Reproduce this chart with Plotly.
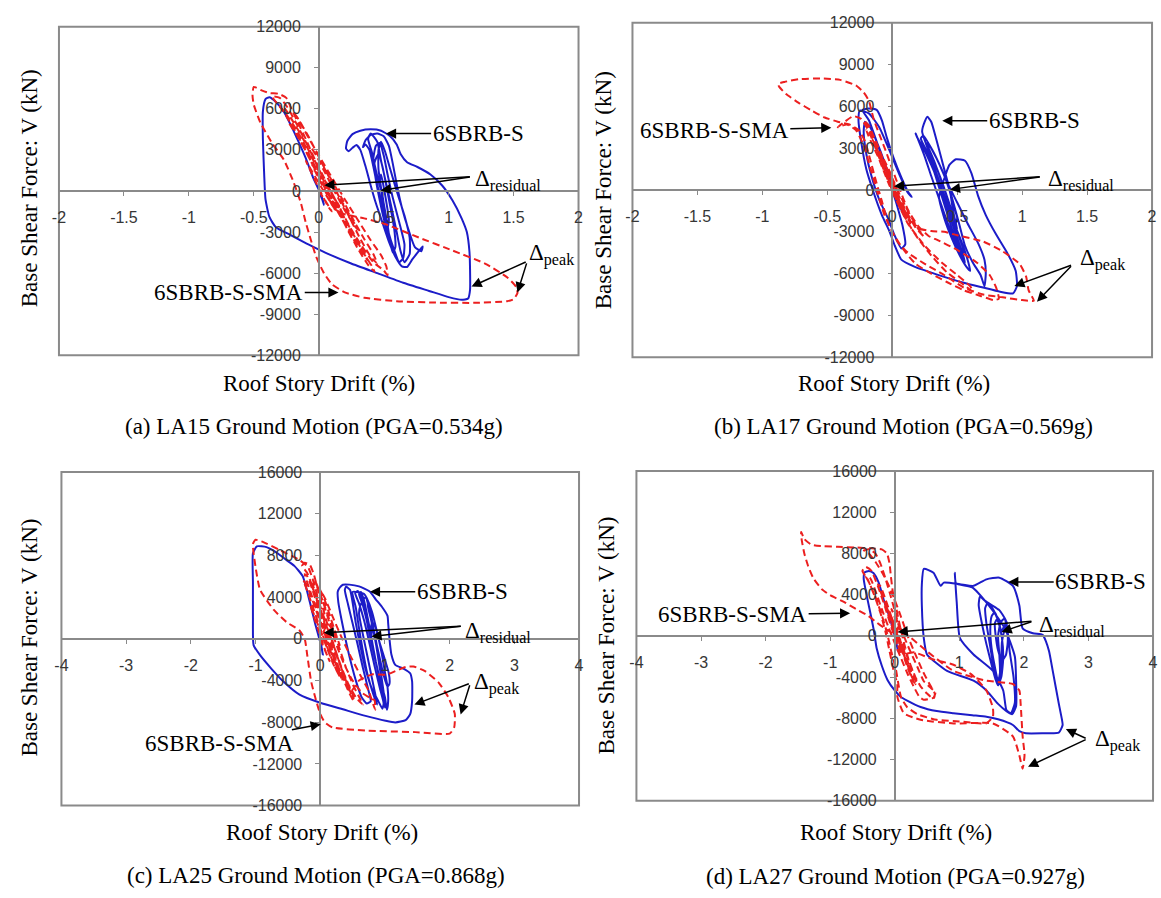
import plotly.graph_objects as go

# Roof story drift (%) vs base shear (kN) histories, one list of (drift, shear) per series
la15_s = [(0, 0), (0.03, -700), (0.04, -1000), (0.02, -300), (-0.04, 900), (-0.1, 2400), (-0.17, 3900),
          (-0.22, 4900), (-0.27, 5800), (-0.33, 6500), (-0.38, 6850), (-0.41, 6700), (-0.43, 5800),
          (-0.43, 3800), (-0.42, 1200), (-0.41, -600), (-0.38, -1900), (-0.33, -2650), (-0.22, -3200),
          (-0.08, -3900), (0.05, -4500), (0.25, -5300), (0.45, -6000), (0.65, -6700), (0.85, -7300),
          (1.0, -7750), (1.1, -7950), (1.15, -7850), (1.165, -7200), (1.165, -5800), (1.16, -4400),
          (1.14, -3000), (1.1, -2000), (1.03, -700), (0.95, 400), (0.86, 1200), (0.76, 1750), (0.68, 2100),
          (0.63, 2700), (0.6, 3400), (0.55, 4000), (0.48, 4400), (0.40, 4500), (0.32, 4400), (0.26, 4150),
          (0.22, 3650), (0.21, 3100), (0.23, 2900), (0.26, 3150), (0.29, 3350), (0.32, 3000), (0.36, 1800),
          (0.40, 400), (0.44, -900), (0.49, -2300), (0.54, -3700), (0.59, -4800), (0.64, -5500),
          (0.68, -5550), (0.72, -5000), (0.77, -4400), (0.80, -4050), (0.79, -4400), (0.74, -4100),
          (0.69, -2800), (0.64, -1200), (0.60, 500), (0.57, 2000), (0.54, 3300), (0.50, 4000), (0.45, 4200),
          (0.40, 4100), (0.36, 3700), (0.34, 3200), (0.36, 3400), (0.39, 3000), (0.42, 1800), (0.45, 400),
          (0.49, -1200), (0.53, -2800), (0.58, -4300), (0.62, -5200), (0.65, -4900), (0.66, -3900),
          (0.62, -2300), (0.57, -500), (0.53, 1200), (0.50, 2600), (0.47, 3500), (0.44, 3300), (0.42, 2300),
          (0.44, 800), (0.47, -700), (0.50, -2000), (0.54, -3400), (0.57, -4500), (0.59, -4100),
          (0.58, -2700), (0.55, -1100), (0.52, 400), (0.49, 1800), (0.46, 2700), (0.43, 2100), (0.44, 900),
          (0.47, -300), (0.50, -1600), (0.53, -2700), (0.54, -2100), (0.52, -800), (0.50, 300), (0.48, 1200),
          (0.47, 600), (0.48, 0), (0.44, 1500), (0.41, 2800), (0.38, 3800), (0.40, 4200), (0.45, 3600),
          (0.48, 2200), (0.52, 500), (0.56, -1200), (0.60, -3000), (0.63, -4400), (0.66, -5200),
          (0.70, -4600), (0.70, -3400), (0.66, -1800), (0.60, 0), (0.55, 1600), (0.51, 2900), (0.48, 3600),
          (0.46, 3000), (0.46, 1600), (0.48, 200), (0.50, -1400), (0.53, -3000), (0.55, -3800),
          (0.53, -2500), (0.50, -900), (0.48, 300), (0.476, 40)]

la15_sma = [(0, 0), (0.05, -700), (0.1, -1500), (0.07, -1100), (0.0, 200), (-0.06, 1400), (-0.1, 2200),
            (-0.05, 1400), (0.05, -200), (0.14, -1500), (0.22, -1750), (0.35, -2000), (0.52, -2450),
            (0.77, -3400), (1.03, -4350), (1.28, -5300), (1.45, -6300), (1.52, -7000), (1.53, -7450),
            (1.5, -7900), (1.45, -8050), (1.2, -8170), (0.9, -8150), (0.6, -8050), (0.35, -7800),
            (0.2, -7400), (0.1, -6800), (0.04, -6000), (-0.02, -4800), (-0.06, -3600), (-0.1, -2300),
            (-0.14, -800), (-0.2, 800), (-0.27, 2300), (-0.36, 3500), (-0.45, 5000), (-0.5, 6300),
            (-0.51, 7000), (-0.5, 7600), (-0.44, 7350), (-0.38, 7150), (-0.31, 7100), (-0.25, 6800),
            (-0.22, 6200), (-0.16, 5000), (-0.1, 3800), (-0.03, 2300), (0.05, 800), (0.12, -600),
            (0.2, -2000), (0.28, -3400), (0.35, -4600), (0.41, -5500), (0.43, -5900), (0.38, -5400),
            (0.3, -4200), (0.22, -2800), (0.14, -1300), (0.05, 300), (-0.04, 1800), (-0.12, 3300),
            (-0.2, 4700), (-0.28, 5900), (-0.33, 6500), (-0.36, 6900), (-0.3, 6800), (-0.24, 6100),
            (-0.16, 4700), (-0.08, 3200), (0.0, 1600), (0.08, 200), (0.16, -1200), (0.25, -2800),
            (0.33, -4000), (0.42, -5200), (0.5, -5800), (0.53, -6150), (0.52, -5500), (0.48, -4700),
            (0.4, -3600), (0.3, -2100), (0.2, -600), (0.1, 1000), (0.0, 2600), (-0.08, 3900), (-0.15, 5100),
            (-0.2, 5800), (-0.16, 5300), (-0.08, 4000), (0.0, 2500), (0.08, 1000), (0.16, -500),
            (0.24, -2000), (0.32, -3500), (0.4, -4800), (0.45, -5300), (0.42, -4600), (0.35, -3500),
            (0.26, -2000), (0.17, -400), (0.08, 1100), (0.0, 2300), (-0.06, 3200), (-0.02, 2600),
            (0.05, 1300), (0.12, 0), (0.2, -1400), (0.28, -2600), (0.3, -2800), (0.24, -1800),
            (0.15, -300), (0.08, 800), (0.04, 400), (0.1, -600), (0.16, -1500), (0.12, -1300), (0.06, -200),
            (0.0, 900), (-0.05, 1900), (-0.02, 1500), (0.04, 500), (0.12, -900), (0.2, -2100), (0.26, -3000),
            (0.22, -2700), (0.14, -1400), (0.06, 0), (-0.02, 1400), (-0.1, 2900), (-0.17, 4100),
            (-0.23, 5000), (-0.2, 4800), (-0.12, 3500), (-0.05, 2100), (0.02, 800), (0.1, -700),
            (0.18, -2000), (0.24, -3000), (0.3, -3800), (0.36, -4700), (0.38, -5100), (0.34, -4600),
            (0.26, -3400), (0.18, -2000), (0.1, -600), (0.03, 700), (-0.05, 2200), (-0.12, 3600),
            (-0.18, 4600), (-0.25, 5600), (-0.3, 6200), (-0.26, 6000), (-0.2, 5100), (-0.12, 3800),
            (-0.04, 2200), (0.03, 900), (0.1, -300), (0.16, -1100), (0.12, -500), (0.06, 500), (0.043, 420)]

la17_s = [(0, 0), (0.06, -1200), (0.1, -2000), (0.05, -1000), (-0.03, 1200), (-0.1, 3000), (-0.17, 4500),
          (-0.21, 4900), (-0.22, 4200), (-0.2, 2600), (-0.16, 1000), (-0.1, -700), (-0.03, -2100),
          (0.02, -3300), (0.07, -4200), (0.1, -3900), (0.08, -2600), (0.03, -900), (-0.04, 1200),
          (-0.11, 3200), (-0.18, 5000), (-0.23, 5750), (-0.18, 5850), (-0.12, 5750), (-0.08, 5000),
          (-0.04, 3700), (0.01, 2300), (0.07, 900), (0.12, -100), (0.15, -500), (0.12, -200), (0.06, 1000),
          (-0.02, 2800), (-0.1, 4500), (-0.18, 5500), (-0.25, 5700), (-0.26, 5000), (-0.24, 3500),
          (-0.2, 1500), (-0.15, 0), (-0.08, -1800), (-0.02, -3000), (0.02, -4000), (0.07, -5000),
          (0.17, -5500), (0.34, -6050), (0.55, -6650), (0.7, -7000), (0.83, -7300), (0.93, -7420),
          (0.96, -6900), (0.95, -5800), (0.89, -4600), (0.8, -3200), (0.72, -1800), (0.66, -400),
          (0.61, 1200), (0.56, 2100), (0.49, 2200), (0.44, 1800), (0.4, 800), (0.36, -500), (0.4, -2000),
          (0.46, -3500), (0.52, -4700), (0.57, -5500), (0.6, -5800), (0.58, -5000), (0.52, -3400),
          (0.45, -1800), (0.38, 0), (0.3, 1800), (0.24, 3000), (0.19, 3800), (0.18, 4050), (0.2, 3600),
          (0.25, 2400), (0.3, 1000), (0.36, -600), (0.42, -2200), (0.48, -3600), (0.53, -4700),
          (0.55, -4400), (0.5, -3000), (0.44, -1400), (0.37, 400), (0.31, 2000), (0.26, 3300), (0.23, 4200),
          (0.25, 4900), (0.27, 5250), (0.3, 4900), (0.34, 3600), (0.38, 2200), (0.42, 800), (0.47, -900),
          (0.52, -2600), (0.56, -4000), (0.62, -5200), (0.68, -6100), (0.71, -6900), (0.72, -6000),
          (0.71, -5000), (0.66, -3800), (0.58, -2400), (0.5, -900), (0.42, 600), (0.36, 1900), (0.3, 3000),
          (0.26, 3400), (0.28, 3000), (0.33, 1900), (0.38, 600), (0.44, -1000), (0.49, -2400), (0.5, -2000),
          (0.46, -800), (0.44, 0), (0.38, 1500), (0.3, 3000), (0.24, 3900), (0.22, 3700), (0.28, 2500),
          (0.34, 800), (0.4, -1000), (0.46, -2800), (0.52, -4300), (0.56, -5200), (0.54, -4500),
          (0.48, -2900), (0.42, -1200), (0.36, 500), (0.3, 2100), (0.27, 2900), (0.31, 2300), (0.37, 900),
          (0.43, -700), (0.48, -2200), (0.5, -2800), (0.47, -1600), (0.444, 35)]

la17_sma = [(0, 0), (0.04, -800), (0.08, -1500), (0.03, -500), (-0.04, 1000), (-0.1, 2400), (-0.15, 3600),
            (-0.12, 3000), (-0.05, 1500), (0.02, 0), (0.08, -1300), (0.14, -2400), (0.1, -1800),
            (0.02, -200), (-0.06, 1600), (-0.13, 3200), (-0.18, 4400), (-0.22, 5000), (-0.18, 4600),
            (-0.1, 2900), (-0.02, 1000), (0.06, -800), (0.14, -2200), (0.22, -2800), (0.3, -2950),
            (0.4, -3000), (0.5, -3250), (0.7, -3700), (0.85, -4400), (0.98, -5300), (1.03, -6200),
            (1.05, -7200), (1.09, -7950), (1.0, -7900), (0.85, -7700), (0.7, -7500), (0.55, -7000),
            (0.4, -6100), (0.25, -5300), (0.12, -4500), (0.04, -3700), (-0.03, -2400), (-0.08, -800),
            (-0.13, 800), (-0.17, 2200), (-0.21, 3500), (-0.26, 4300), (-0.33, 4700), (-0.42, 4900),
            (-0.52, 5200), (-0.62, 5700), (-0.72, 6250), (-0.82, 6900), (-0.87, 7400), (-0.88, 7600),
            (-0.83, 7750), (-0.72, 7950), (-0.55, 8000), (-0.4, 7900), (-0.28, 7500), (-0.22, 7000),
            (-0.18, 6400), (-0.16, 5700), (-0.14, 5000), (-0.1, 4000), (-0.05, 2800), (0.0, 1500),
            (0.06, 0), (0.12, -1400), (0.2, -2600), (0.28, -3300), (0.35, -3600), (0.5, -4300),
            (0.65, -5200), (0.75, -6100), (0.8, -7000), (0.82, -7800), (0.78, -7900), (0.68, -7600),
            (0.55, -7200), (0.42, -6600), (0.3, -6000), (0.18, -5300), (0.08, -4200), (0.0, -3000),
            (-0.06, -1800), (-0.12, 0), (-0.17, 1600), (-0.22, 3200), (-0.28, 4300), (-0.35, 4700),
            (-0.42, 4500), (-0.38, 4800), (-0.3, 5300), (-0.24, 5100), (-0.18, 4200), (-0.12, 2800),
            (-0.06, 1300), (0.0, 0), (0.06, -1300), (0.13, -2500), (0.2, -3500), (0.3, -4700),
            (0.42, -5900), (0.55, -6800), (0.62, -7300), (0.6, -6900), (0.5, -6100), (0.38, -5200),
            (0.25, -4000), (0.12, -2400), (0.04, -900), (-0.02, 300), (-0.08, 1700), (-0.12, 2700),
            (-0.08, 2200), (-0.02, 1200), (0.03, 200), (0.02, -100), (0.08, -1200), (0.14, -2200),
            (0.1, -1700), (0.03, -400), (-0.04, 900), (-0.1, 2200), (-0.16, 3400), (-0.2, 4300),
            (-0.17, 4100), (-0.1, 2800), (-0.03, 1300), (0.03, 0), (0.1, -1400), (0.18, -2700),
            (0.24, -3300), (0.2, -2800), (0.12, -1500), (0.04, 0), (-0.04, 1500), (-0.1, 2700),
            (-0.06, 2100), (0.0, 900), (0.013, 270)]

la25_s = [(0, 0), (0.04, -1500), (0.02, -800), (-0.08, 1500), (-0.16, 3500), (-0.27, 6000), (-0.4, 7000),
          (-0.52, 7550), (-0.68, 8300), (-0.83, 8800), (-0.98, 8870), (-1.04, 8200), (-1.04, 5350),
          (-1.04, 2000), (-1.03, -600), (-0.93, -1570), (-0.75, -2900), (-0.57, -4090), (-0.32, -5350),
          (0.0, -6130), (0.35, -6760), (0.7, -7390), (1.01, -7860), (1.16, -8020), (1.32, -7800),
          (1.39, -7230), (1.42, -5970), (1.42, -4090), (1.39, -3300), (1.3, -2900), (1.16, -2500),
          (1.1, -1500), (1.07, 0), (1.05, 1500), (1.04, 2200), (0.95, 3100), (0.86, 3770), (0.76, 4560),
          (0.6, 5030), (0.45, 5200), (0.35, 5190), (0.3, 4900), (0.27, 4500), (0.28, 3500), (0.33, 1800),
          (0.4, -300), (0.48, -2400), (0.56, -4200), (0.64, -5600), (0.72, -6200), (0.78, -6000),
          (0.74, -4800), (0.66, -2800), (0.58, -600), (0.5, 1500), (0.43, 3300), (0.38, 4700), (0.4, 5000),
          (0.46, 4700), (0.5, 3500), (0.55, 1500), (0.62, -700), (0.7, -2900), (0.8, -4800), (0.9, -6000),
          (0.96, -6700), (0.98, -6200), (0.92, -4700), (0.84, -2600), (0.76, -400), (0.68, 1700),
          (0.6, 3400), (0.54, 4400), (0.58, 4600), (0.64, 4000), (0.7, 2500), (0.76, 500), (0.84, -1700),
          (0.92, -3800), (1.0, -5600), (1.03, -6800), (1.05, -6000), (1.04, -4600), (1.0, -3200),
          (0.95, -1400), (0.88, 600), (0.8, 2600), (0.72, 3900), (0.68, 4300), (0.5, 4500), (0.55, 3000),
          (0.6, 1000), (0.66, -1200), (0.73, -3400), (0.82, -5300), (0.88, -6300), (0.86, -5600),
          (0.8, -3800), (0.73, -1700), (0.66, 400), (0.6, 2400), (0.62, 3200), (0.7, 4000), (0.76, 2800),
          (0.82, 900), (0.9, -1300), (0.98, -3500), (1.04, -4600), (1.07, -4300), (1.06, -3300),
          (1.0, -2000), (0.92, -400), (0.85, 1200), (0.8, 1600), (0.78, 800), (0.77, 200), (0.72, 1700),
          (0.66, 3200), (0.6, 4300), (0.63, 4500), (0.68, 3600), (0.74, 1800), (0.8, -200), (0.86, -2200),
          (0.93, -4200), (0.98, -5800), (1.0, -6600), (0.99, -5600), (0.95, -3800), (0.9, -1800),
          (0.84, 200), (0.78, 2000), (0.73, 3300), (0.75, 3200), (0.8, 1800), (0.85, 0), (0.9, -2000),
          (0.94, -3600), (0.93, -2600), (0.88, -800), (0.83, 700), (0.8, 900), (0.792, 220)]

la25_sma = [(0, 0), (0.08, -1200), (0.15, -2200), (0.1, -1500), (0.0, 300), (-0.08, 1800), (-0.15, 3200),
            (-0.1, 2400), (0.0, 800), (0.1, -800), (0.2, -2400), (0.3, -3600), (0.25, -3000), (0.12, -1000),
            (0.0, 1000), (-0.1, 2800), (-0.2, 4600), (-0.26, 5600), (-0.2, 5000), (-0.08, 3000),
            (0.05, 800), (0.18, -1400), (0.3, -3000), (0.42, -4400), (0.48, -5000), (0.6, -4000),
            (0.81, -3400), (1.01, -3450), (1.16, -3100), (1.32, -2700), (1.44, -2650), (1.62, -3100),
            (1.83, -4200), (1.98, -5600), (2.08, -7200), (2.07, -8500), (2.0, -9100), (1.47, -8950),
            (0.7, -8800), (0.19, -8500), (0.07, -8000), (0.0, -7200), (-0.06, -6000), (-0.14, -4100),
            (-0.2, -1600), (-0.24, 0), (-0.32, 800), (-0.52, 1600), (-0.72, 2800), (-0.93, 4700),
            (-1.0, 6900), (-1.04, 9100), (-1.0, 9500), (-0.88, 9280), (-0.62, 8500), (-0.32, 7550),
            (-0.19, 6900), (-0.12, 5800), (-0.06, 4500), (0.0, 3000), (0.08, 1200), (0.16, -500),
            (0.25, -2200), (0.35, -3800), (0.45, -5200), (0.52, -6000), (0.5, -5300), (0.42, -4200),
            (0.3, -2400), (0.18, -400), (0.06, 1600), (-0.04, 3400), (-0.12, 5000), (-0.2, 6300),
            (-0.28, 7000), (-0.24, 7300), (-0.16, 7100), (-0.1, 6200), (-0.04, 4800), (0.04, 3000),
            (0.12, 1200), (0.22, -800), (0.32, -2600), (0.44, -4400), (0.56, -5700), (0.66, -6300),
            (0.62, -5800), (0.52, -4600), (0.4, -2800), (0.28, -600), (0.16, 1500), (0.06, 3300),
            (-0.02, 4600), (-0.08, 5600), (-0.04, 5000), (0.04, 3600), (0.14, 1600), (0.24, -400),
            (0.36, -2300), (0.5, -4000), (0.65, -5200), (0.78, -5700), (0.84, -5900), (0.85, -6800),
            (0.82, -6300), (0.75, -5000), (0.62, -3500), (0.48, -1800), (0.34, 0), (0.2, 2000),
            (0.08, 3800), (0.0, 4700), (0.06, 3900), (0.14, 2400), (0.24, 500), (0.3, -600), (0.22, 600),
            (0.12, 1400), (0.06, 800), (0.05, 600), (0.12, -600), (0.2, -1800), (0.28, -3000), (0.34, -3900),
            (0.3, -3400), (0.22, -2000), (0.12, -300), (0.02, 1400), (-0.06, 2900), (-0.14, 4300),
            (-0.2, 5400), (-0.24, 6200), (-0.2, 6000), (-0.12, 4700), (-0.04, 3100), (0.04, 1500),
            (0.12, 0), (0.22, -1700), (0.32, -3300), (0.42, -4600), (0.48, -5300), (0.44, -4700),
            (0.36, -3400), (0.26, -1600), (0.16, 200), (0.06, 1800), (-0.02, 3200), (-0.1, 4600),
            (-0.16, 5500), (-0.12, 5200), (-0.04, 3900), (0.04, 2400), (0.1, 1200), (0.06, 1000),
            (0.054, 590)]

la27_s = [(0, 0), (0.05, -1500), (0.02, -500), (-0.08, 1800), (-0.16, 3300), (-0.25, 5200), (-0.33, 6100),
          (-0.4, 6300), (-0.47, 6150), (-0.48, 5500), (-0.42, 3500), (-0.37, 2000), (-0.32, 400),
          (-0.28, -1200), (-0.2, -2900), (-0.11, -4300), (0.0, -5300), (0.09, -5900), (0.2, -6300),
          (0.4, -6900), (0.65, -7300), (0.91, -7500), (1.2, -7700), (1.42, -7850), (1.6, -8100),
          (1.83, -8650), (1.93, -9250), (2.03, -9450), (2.3, -9450), (2.54, -9400), (2.6, -8650),
          (2.57, -7500), (2.54, -6550), (2.45, -3500), (2.39, -1500), (2.34, -500), (2.29, 100),
          (2.14, 250), (1.98, 730), (1.93, 2950), (1.83, 4860), (1.62, 5650), (1.42, 5490), (1.22, 4860),
          (1.01, 5020), (0.76, 5170), (0.71, 4860), (0.6, 6130), (0.45, 6510), (0.42, 5000), (0.42, 2950),
          (0.45, -220), (0.5, -1800), (0.81, -3400), (1.22, -4350), (1.42, -5300), (1.6, -6600),
          (1.73, -7300), (1.82, -7600), (1.88, -6800), (1.88, -4500), (1.86, -2000), (1.7, 800),
          (1.45, 3000), (1.2, 4700), (0.95, 5100), (0.93, 6130), (0.96, 3270), (1.01, -220), (1.22, -1810),
          (1.52, -3400), (1.68, -5300), (1.73, -7210), (1.8, -7500), (1.86, -6500), (1.84, -4000),
          (1.78, -1500), (1.75, 400), (1.72, 1500), (1.62, 2500), (1.5, 3000), (1.4, 3400), (1.32, 3800),
          (1.3, 3000), (1.35, 1200), (1.42, -800), (1.5, -2800), (1.56, -4200), (1.6, -4800), (1.65, -4000),
          (1.68, -2200), (1.66, -200), (1.6, 1500), (1.55, 2300), (1.5, 1900), (1.48, 500), (1.5, -1200),
          (1.55, -3000), (1.6, -4400), (1.63, -3600), (1.62, -1800), (1.6, 0), (1.64, 1300), (1.7, 1700),
          (1.74, 800), (1.75, -600), (1.72, -1900), (1.66, -2400), (1.6, -1400), (1.56, 200), (1.55, 1200),
          (1.58, 1600), (1.62, 1100), (1.65, 430), (1.6, 1500), (1.52, 2600), (1.44, 3200), (1.4, 2700),
          (1.42, 1200), (1.47, -700), (1.52, -2600), (1.57, -3900), (1.6, -4500), (1.63, -3800),
          (1.65, -2200), (1.66, -600), (1.7, 600), (1.74, 1300), (1.7, 1000), (1.655, 380)]

la27_sma = [(0, 0), (0.05, -900), (0.1, -1800), (0.05, -900), (-0.03, 700), (-0.1, 2000), (-0.16, 3300),
            (-0.1, 2400), (0.0, 600), (0.1, -1200), (0.2, -2700), (0.28, -3900), (0.35, -4600), (0.3, -3800),
            (0.18, -1800), (0.08, -300), (-0.05, 300), (-0.16, 750), (-0.3, 1400), (-0.42, 2000),
            (-0.6, 2600), (-0.78, 3270), (-1.0, 3950), (-1.13, 4540), (-1.26, 5600), (-1.34, 6760),
            (-1.4, 8000), (-1.44, 9300), (-1.45, 10100), (-1.4, 9400), (-1.29, 8850), (-1.1, 8700),
            (-0.88, 8650), (-0.6, 8580), (-0.37, 8500), (-0.2, 8400), (-0.12, 8000), (-0.08, 7000),
            (-0.06, 5800), (-0.03, 4300), (0.02, 2800), (0.08, 1000), (0.14, -600), (0.22, -2400),
            (0.32, -4000), (0.4, -4900), (0.5, -5600), (0.6, -6100), (0.62, -5600), (0.55, -4800),
            (0.44, -3500), (0.32, -1800), (0.2, 0), (0.1, 1800), (0.0, 3500), (-0.1, 5000), (-0.2, 6200),
            (-0.3, 7200), (-0.4, 8000), (-0.48, 8300), (-0.4, 8400), (-0.3, 8000), (-0.22, 7000),
            (-0.14, 5500), (-0.06, 3800), (0.02, 2000), (0.1, 300), (0.19, 100), (0.5, -1500),
            (0.91, -3400), (1.42, -4350), (1.83, -4670), (1.93, -5300), (1.95, -6600), (1.98, -9700),
            (2.01, -11600), (1.98, -12900), (1.93, -11600), (1.83, -9750), (1.52, -8500), (0.91, -8500),
            (0.4, -8150), (0.14, -7500), (0.04, -5900), (0.04, -4700), (-0.02, -3300), (-0.08, -1500),
            (-0.14, 300), (-0.22, 2200), (-0.32, 4000), (-0.42, 5500), (-0.5, 6300), (-0.45, 6700),
            (-0.36, 6300), (-0.26, 4800), (-0.15, 2800), (-0.05, 800), (0.05, -900), (0.15, -1700),
            (0.3, -1600), (0.6, -2300), (0.91, -2800), (1.2, -3800), (1.42, -5300), (1.52, -7000),
            (1.52, -7850), (1.42, -8480), (1.0, -8300), (0.65, -8150), (0.35, -7600), (0.19, -6900),
            (0.1, -6000), (0.06, -4800), (0.02, -3300), (-0.05, -1600), (-0.12, 300), (-0.2, 2000),
            (-0.3, 3800), (-0.4, 5200), (-0.45, 5800), (-0.38, 5600), (-0.3, 4400), (-0.2, 2600),
            (-0.1, 900), (0.0, -700), (0.1, -2200), (0.2, -3700), (0.3, -5000), (0.38, -5900), (0.45, -6200),
            (0.6, -6000), (0.63, -5500), (0.55, -5000), (0.45, -4400), (0.35, -3000), (0.22, -1200),
            (0.1, 600), (0.02, 1700), (-0.05, 2600), (0.0, 1800), (0.05, 800), (0.04, 430), (0.1, -700),
            (0.18, -2100), (0.24, -3200), (0.2, -2800), (0.12, -1500), (0.04, -200), (-0.04, 1200),
            (-0.12, 2700), (-0.2, 4000), (-0.26, 5000), (-0.22, 4800), (-0.14, 3500), (-0.06, 2000),
            (0.02, 500), (0.1, -1000), (0.18, -2500), (0.26, -3900), (0.32, -4700), (0.28, -4300),
            (0.2, -3100), (0.12, -1600), (0.04, -100), (-0.04, 1400), (-0.1, 2500), (-0.06, 2000),
            (0.0, 1000), (0.046, 380)]

# Tick values and their printed labels
drift_ticks_2 = [-2, -1.5, -1, -0.5, 0, 0.5, 1, 1.5, 2]
drift_text_2 = ["-2", "-1.5", "-1", "-0.5", "0", "0.5", "1", "1.5", "2"]
drift_ticks_4 = [-4, -3, -2, -1, 0, 1, 2, 3, 4]
drift_text_4 = ["-4", "-3", "-2", "-1", "0", "1", "2", "3", "4"]
shear_ticks_12 = [-12000, -9000, -6000, -3000, 0, 3000, 6000, 9000, 12000]
shear_text_12 = ["-12000", "-9000", "-6000", "-3000", "0", "3000", "6000", "9000", "12000"]
shear_ticks_16 = [-16000, -12000, -8000, -4000, 0, 4000, 8000, 12000, 16000]
shear_text_16 = ["-16000", "-12000", "-8000", "-4000", "0", "4000", "8000", "12000", "16000"]

captions = ["(a) LA15 Ground Motion (PGA=0.534g)", "(b) LA17 Ground Motion (PGA=0.569g)",
            "(c) LA25 Ground Motion (PGA=0.868g)", "(d) LA27 Ground Motion (PGA=0.927g)"]

W, H = 1161, 898
BLUE = "#1c1cc8"
RED = "#ec1f1f"
AXIS = "#8a8a8a"
SERIF = "Liberation Serif, Times New Roman, serif"
SANS = "Liberation Sans, Arial, sans-serif"

# Panel frames in pixels (left, top, right, bottom) and annotation anchors in data units
panels = [
    dict(box=(52.5, 19, 577.5, 354), xr=2, yr=12000, s=la15_s, sma=la15_sma,
         xt=(drift_ticks_2, drift_text_2), yt=(shear_ticks_12, shear_text_12),
         s_lbl=(1.227, 4190, 0.518, 4190), sma_lbl=(-0.693, -7415, 0.152, -7415),
         res=(1.19, 800, 1.175, 1040, [(0.043, 420), (0.476, 40)]),
         peak=(1.6, -4650, 1.605, -5140, [(1.176, -6980), (1.53, -7410)]),
         ytitle=(23, 184), xtitle=(315, 383), cap=(310, 427)),
    dict(box=(632, 15, 1157, 356), xr=2, yr=12000, s=la17_s, sma=la17_sma,
         xt=(drift_ticks_2, drift_text_2), yt=(shear_ticks_12, shear_text_12),
         s_lbl=(1.093, 4960, 0.385, 4960), sma_lbl=(-1.37, 4260, -0.469, 4470),
         res=(1.185, 750, 1.147, 950, [(0.013, 270), (0.444, 35)]),
         peak=(1.43, -5000, 1.388, -5360, [(0.94, -6890), (1.114, -8010)]),
         ytitle=(603, 186), xtitle=(896, 383), cap=(906, 427)),
    dict(box=(55, 473, 578, 813), xr=4, yr=16000, s=la25_s, sma=la25_sma,
         xt=(drift_ticks_4, drift_text_4), yt=(shear_ticks_16, shear_text_16),
         s_lbl=(2.195, 4520, 0.768, 4520), sma_lbl=(-1.553, -10070, 0.008, -8190),
         res=(2.21, 650, 2.195, 1220, [(0.054, 590), (0.792, 220)]),
         peak=(2.348, -4250, 2.32, -4260, [(1.456, -6310), (2.17, -7250)]),
         ytitle=(23, 642), xtitle=(318, 840), cap=(312, 884)),
    dict(box=(636, 472, 1158, 808), xr=4, yr=16000, s=la27_s, sma=la27_sma,
         xt=(drift_ticks_4, drift_text_4), yt=(shear_ticks_16, shear_text_16),
         s_lbl=(3.19, 5240, 1.758, 5240), sma_lbl=(-2.51, 2100, -0.69, 2190),
         res=(2.207, 950, 2.14, 1430, [(0.046, 380), (1.655, 380)]),
         peak=(3.065, -10150, 2.98, -10000, [(2.65, -9050), (2.064, -12700)]),
         ytitle=(606, 640), xtitle=(898, 840), cap=(898, 885)),
]

fig = go.Figure()
layout = dict(width=W, height=H, margin=dict(l=0, r=0, t=0, b=0),
              paper_bgcolor="white", plot_bgcolor="white", showlegend=False)
annotations = []
shapes = []

arrow_style = dict(showarrow=True, arrowhead=2, arrowsize=1.35, arrowwidth=1.5, arrowcolor="black")
label_font = dict(family=SERIF, size=23, color="black")
title_font = dict(family=SERIF, size=23, color="black")

for i, p in enumerate(panels, start=1):
    l, t, r, b = p["box"]
    xdom = [l / W, r / W]
    ydom = [1 - b / H, 1 - t / H]
    xid = "x" if i == 1 else f"x{i}"
    yid = "y" if i == 1 else f"y{i}"
    xkey = "xaxis" if i == 1 else f"xaxis{i}"
    ykey = "yaxis" if i == 1 else f"yaxis{i}"

    common = dict(showline=True, linecolor=AXIS, linewidth=1.5, ticks="outside", ticklen=4,
                  tickwidth=1.2, tickcolor=AXIS, tickmode="array", showgrid=False, zeroline=False,
                  tickfont=dict(family=SANS, size=16, color="#363636"), anchor="free", fixedrange=True)
    layout[xkey] = dict(common, domain=xdom, range=[-p["xr"], p["xr"]],
                        position=(ydom[0] + ydom[1]) / 2, tickvals=p["xt"][0], ticktext=p["xt"][1],
                        ticklabelstandoff=8)
    layout[ykey] = dict(common, domain=ydom, range=[-p["yr"], p["yr"]],
                        position=(xdom[0] + xdom[1]) / 2, tickvals=p["yt"][0], ticktext=p["yt"][1],
                        ticklabelstandoff=10)

    shapes.append(dict(type="rect", xref=f"{xid} domain", yref=f"{yid} domain", x0=0, x1=1, y0=0, y1=1,
                       line=dict(color=AXIS, width=2), layer="below"))

    fig.add_trace(go.Scatter(x=[q[0] for q in p["s"]], y=[q[1] for q in p["s"]], mode="lines",
                             name="6SBRB-S", xaxis=xid, yaxis=yid,
                             line=dict(color=BLUE, width=2, shape="spline", smoothing=0.5)))
    fig.add_trace(go.Scatter(x=[q[0] for q in p["sma"]], y=[q[1] for q in p["sma"]], mode="lines",
                             name="6SBRB-S-SMA", xaxis=xid, yaxis=yid,
                             line=dict(color=RED, width=2, dash="7px,4px", shape="spline", smoothing=0.5)))

    ref = dict(xref=xid, yref=yid, axref=xid, ayref=yid)
    # single-arrow series labels
    tx, ty, hx, hy = p["s_lbl"]
    annotations.append(dict(ref, x=hx, y=hy, ax=tx, ay=ty, text="6SBRB-S", font=label_font, **arrow_style))
    tx, ty, hx, hy = p["sma_lbl"]
    annotations.append(dict(ref, x=hx, y=hy, ax=tx, ay=ty, text="6SBRB-S-SMA", font=label_font, **arrow_style))
    # two-arrow delta labels
    for key, txt in (("res", "Δ<sub>residual</sub>"), ("peak", "Δ<sub>peak</sub>")):
        lx, ly, tx, ty, heads = p[key]
        annotations.append(dict(xref=xid, yref=yid, x=lx, y=ly, text=txt, showarrow=False,
                                xanchor="left", yanchor="middle", font=label_font))
        for hx, hy in heads:
            annotations.append(dict(ref, x=hx, y=hy, ax=tx, ay=ty, text=" ",
                                    font=dict(size=1), **arrow_style))

    # titles and caption
    centred = dict(xref="paper", yref="paper", xanchor="center", yanchor="middle", showarrow=False)
    px, py = p["ytitle"]
    annotations.append(dict(centred, x=px / W, y=1 - py / H, text="Base Shear Force: V (kN)",
                            textangle=-90, font=title_font))
    px, py = p["xtitle"]
    annotations.append(dict(centred, x=px / W, y=1 - py / H, text="Roof Story Drift (%)", font=title_font))
    px, py = p["cap"]
    annotations.append(dict(centred, x=px / W, y=1 - py / H, text=captions[i - 1], font=title_font))

layout["annotations"] = annotations
layout["shapes"] = shapes
fig.update_layout(**layout)
fig.write_html("out.html", post_script="document.body.style.margin = '0';")
